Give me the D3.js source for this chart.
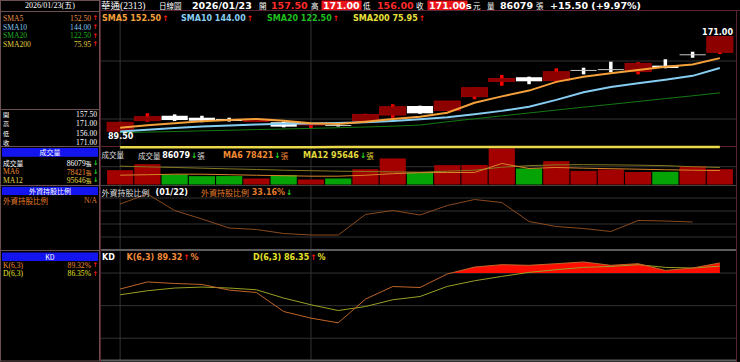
<!DOCTYPE html>
<html>
<head>
<meta charset="utf-8">
<script src="https://cdn.jsdelivr.net/npm/d3@7"></script>
<style>
  body { margin: 0; background: #000; }
  svg { display: block; }
</style>
</head>
<body>
<svg id="chart" width="740" height="362"></svg>
<script>
// ---- data ----
const dates = ['2025/12/23', '2025/12/24', '2025/12/25', '2025/12/26', '2025/12/29', '2025/12/30', '2025/12/31',
  '2026/01/02', '2026/01/05', '2026/01/06', '2026/01/07', '2026/01/08', '2026/01/09', '2026/01/12', '2026/01/13',
  '2026/01/14', '2026/01/15', '2026/01/16', '2026/01/19', '2026/01/20', '2026/01/21', '2026/01/22', '2026/01/23']

const open  = [89.5, 98.5, 102.8, 101.1, 100.0, 97.8, 97.2, 94.8, 94.8, 98.3, 103.4, 111.2, 107.2, 119.2, 132.2, 136.0, 133.0, 142.3, 143.0, 140.8, 146.0, 155.8, 157.5]
const high  = [97.5, 104.9, 104.0, 102.8, 101.1, 100.5, 97.8, 96.3, 95.6, 104.5, 112.7, 111.5, 115.5, 127.0, 138.0, 136.5, 143.7, 144.2, 149.4, 148.9, 151.5, 158.0, 171.0]
const low   = [89.5, 97.7, 98.3, 97.2, 97.8, 97.5, 92.8, 92.0, 93.5, 98.0, 101.1, 104.5, 107.0, 117.0, 128.7, 130.0, 131.5, 138.5, 140.3, 138.5, 143.7, 152.8, 156.0]
const close = [97.2, 102.0, 99.1, 98.5, 98.3, 99.8, 93.4, 96.0, 94.5, 104.0, 110.6, 104.9, 115.5, 127.0, 135.0, 132.5, 140.8, 142.1, 142.6, 148.0, 144.0, 155.5, 171.0]

const sma5   = [92.5, 94.6, 96.3, 98.0, 99.1, 100.0, 98.5, 96.3, 95.7, 97.7, 100.0, 102.0, 105.4, 114.0, 119.5, 124.5, 132.0, 136.5, 139.4, 142.2, 145.1, 147.0, 152.5]
const sma10  = [89.2, 90.8, 92.3, 93.5, 94.5, 95.3, 95.8, 96.2, 96.5, 97.3, 98.3, 99.7, 101.5, 104.0, 107.0, 110.6, 116.5, 123.0, 127.5, 130.8, 133.8, 137.2, 144.0]
const sma20  = [88.2, 88.7, 89.2, 89.8, 90.3, 90.9, 91.4, 91.9, 92.5, 93.1, 93.8, 94.8, 97.6, 100.2, 102.7, 105.2, 107.7, 110.2, 112.6, 115.1, 117.6, 120.0, 122.5]
const sma200 = [75.70, 75.71, 75.72, 75.72, 75.73, 75.74, 75.75, 75.75, 75.76, 75.77, 75.78, 75.78, 75.79, 75.80, 75.81, 75.82, 75.83, 75.84, 75.85, 75.86, 75.87, 75.90, 75.95]

const volume  = [80500, 114200, 56300, 46900, 47500, 33800, 52500, 28100, 33800, 86000, 146300, 67500, 108600, 109800, 202500, 90000, 131100, 76500, 84400, 70200, 71500, 103000, 86079]
const volMa6  = [52300, 55000, 58000, 58000, 55000, 52000, 49500, 46700, 46700, 52000, 60800, 66400, 67500, 67500, 118000, 90000, 95600, 91700, 88900, 86000, 83000, 80400, 78421]
const volMa12 = [103000, 99000, 95600, 91700, 87800, 84400, 80400, 77600, 74800, 73000, 70900, 69200, 74800, 80400, 97300, 105800, 110300, 111400, 110300, 108600, 105800, 100000, 95646]

// foreign holding ratio (%), last value is 01/22
const foreignPct = [33.52, 33.72, 33.39, 33.22, 33.04, 33.01, 32.93, 32.90, 32.90, 33.31, 33.39, 33.30, 33.49, 33.61, 33.55, 33.17, 33.07, 33.03, 32.97, 33.19, 33.18, 33.16]

const kValues = [65.3, 71.8, 70.4, 69.5, 64.3, 62.1, 44.6, 38.5, 34.2, 56.0, 67.6, 66.7, 79.1, 85.5, 87.7, 87.1, 88.6, 90.2, 87.1, 88.6, 82.4, 84.6, 89.32]
const dValues = [60.0, 63.7, 66.2, 67.1, 66.2, 64.6, 57.0, 50.8, 45.5, 49.2, 55.4, 58.4, 67.7, 72.9, 76.9, 80.6, 83.1, 85.2, 86.1, 87.7, 85.2, 84.6, 86.35]

const priceTicks = [100, 150]
const volTicks = [100000]
const foreignTicks = [32.86, 33.12, 33.38, 33.64]
const kdTicks = [20, 50, 80]
const markDates = ['2025/12/23', '2026/01/02']

// ---- setup ----
const sans = "'DejaVu Sans', sans-serif"
const cjk = "'Noto Sans CJK TC', sans-serif"
const serif = "'Liberation Serif', 'Noto Sans CJK TC', serif"
const fmt = d3.format('.2f')
const n = dates.length
const last = n - 1

const svg = d3.select('#chart')
svg.append('rect').attr('width', 740).attr('height', 362).attr('fill', '#000')

const x = d3.scaleBand()
  .domain(dates)
  .range([106.5, 733.5])
  .paddingInner(0.04)
  .paddingOuter(0.02)
const cx = d => x(d) + x.bandwidth() / 2

const y = d3.scaleLinear().domain([100, 150]).range([119, 61])
const yVol = d3.scaleLinear().domain([0, 100000]).range([184.5, 166.7])
const yFor = d3.scaleLinear().domain([32.6, 33.9]).range([250, 185])
const yKD = d3.scaleLinear().domain([0, 100]).range([360, 251.3])

const gridColor = '#333'

function label(g, px, py, s, o = {}) {
  return g.append('text')
    .attr('x', px).attr('y', py)
    .attr('dominant-baseline', 'central')
    .attr('text-anchor', o.anchor || 'start')
    .attr('fill', o.fill || '#fff')
    .attr('font-family', o.family || sans)
    .attr('font-size', o.size || 8)
    .attr('font-weight', o.weight || 'normal')
    .text(s)
}

// a run of coloured pieces that flow one after another
function runs(g, px, py, parts, anchor) {
  const t = g.append('text').attr('x', px).attr('y', py).attr('dominant-baseline', 'central')
    .attr('text-anchor', anchor || 'start')
  parts.forEach(p => {
    t.append('tspan')
      .attr('fill', p.c || '#fff')
      .attr('font-family', p.f || sans)
      .attr('font-size', p.s || 8)
      .attr('font-weight', p.w || 'bold')
      .attr('dx', p.dx || 0)
      .text(p.t)
  })
  return t
}

// ---- grids ----
const grid = svg.append('g')
grid.selectAll('.vg').data(markDates).join('line')
  .attr('x1', d => cx(d)).attr('x2', d => cx(d))
  .attr('y1', 11).attr('y2', 360)
  .attr('stroke', gridColor)
grid.selectAll('.pg').data(priceTicks).join('line')
  .attr('x1', 101).attr('x2', 736).attr('y1', d => y(d)).attr('y2', d => y(d))
  .attr('stroke', gridColor)
grid.selectAll('.volg').data(volTicks).join('line')
  .attr('x1', 101).attr('x2', 736).attr('y1', d => yVol(d)).attr('y2', d => yVol(d))
  .attr('stroke', gridColor)
grid.selectAll('.fg').data(foreignTicks).join('line')
  .attr('x1', 101).attr('x2', 736).attr('y1', d => yFor(d)).attr('y2', d => yFor(d))
  .attr('stroke', gridColor)
grid.selectAll('.kg').data(kdTicks).join('line')
  .attr('x1', 101).attr('x2', 736).attr('y1', d => yKD(d)).attr('y2', d => yKD(d))
  .attr('stroke', gridColor)

// ---- candles ----
const candles = dates.map((d, i) => ({ d, o: open[i], h: high[i], l: low[i], c: close[i] }))
const cs = svg.append('g').selectAll('g').data(candles).join('g')
cs.append('rect')
  .attr('x', d => cx(d.d) - 1.75).attr('width', 3.5)
  .attr('y', d => y(d.h))
  .attr('height', d => Math.max(1, y(d.l) - y(d.h)))
  .attr('fill', d => d.c >= d.o ? '#ff0000' : '#fff')
cs.append('rect')
  .attr('x', d => x(d.d)).attr('width', x.bandwidth())
  .attr('y', d => y(Math.max(d.o, d.c)))
  .attr('height', d => Math.max(1, Math.abs(y(d.o) - y(d.c))))
  .attr('fill', d => d.c >= d.o ? '#8c0000' : (Math.abs(d.o - d.c) < 0.5 ? '#c8c8c8' : '#fff'))
  .attr('stroke', d => d.c >= d.o ? '#a80000' : 'none')
  .attr('stroke-width', 0.8)

// ---- moving averages ----
const maLine = arr => d3.line().x((v, i) => cx(dates[i])).y(v => y(v))(arr)
svg.append('path').attr('d', maLine(sma20)).attr('fill', 'none').attr('stroke', '#127a12').attr('stroke-width', 1)
svg.append('path').attr('d', maLine(sma10)).attr('fill', 'none').attr('stroke', '#86cdf2').attr('stroke-width', 2)
svg.append('path').attr('d', maLine(sma5)).attr('fill', 'none').attr('stroke', '#f5a13a').attr('stroke-width', 2)

// min / max labels
const iMin = d3.minIndex(low), iMax = d3.maxIndex(high)
label(svg, x(dates[iMin]) + 1, y(low[iMin]) + 5, fmt(low[iMin]), { weight: 'bold', size: 8 })
label(svg, x(dates[iMax]) + x.bandwidth(), y(high[iMax]) - 4, fmt(high[iMax]), { weight: 'bold', size: 8, anchor: 'end' })

// ---- volume ----
svg.append('g').selectAll('rect').data(volume).join('rect')
  .attr('x', (v, i) => x(dates[i]))
  .attr('width', x.bandwidth())
  .attr('y', v => yVol(v))
  .attr('height', v => yVol(0) - yVol(v))
  .attr('fill', (v, i) => (i === 0 ? close[0] >= open[0] : close[i] >= close[i - 1]) ? '#a30000' : '#06a306')
const volLine = arr => d3.line().x((v, i) => cx(dates[i])).y(v => yVol(v))(arr)
svg.append('path').attr('d', volLine(volMa12)).attr('fill', 'none').attr('stroke', '#857a22').attr('stroke-width', 1)
svg.append('path').attr('d', volLine(volMa6)).attr('fill', 'none').attr('stroke', '#d8842a').attr('stroke-width', 1)

// ---- foreign ratio ----
svg.append('path')
  .attr('d', d3.line().x((v, i) => cx(dates[i])).y(v => yFor(v))(foreignPct))
  .attr('fill', 'none').attr('stroke', '#8a4a1e').attr('stroke-width', 1)

// ---- KD ----
svg.append('clipPath').attr('id', 'above80')
  .append('rect').attr('x', 100).attr('y', 250).attr('width', 640).attr('height', yKD(80) - 250)
svg.append('path')
  .attr('clip-path', 'url(#above80)')
  .attr('d', d3.area().x((v, i) => cx(dates[i])).y0(yKD(80)).y1(v => yKD(v))(kValues))
  .attr('fill', '#ff0d00')
const kdLine = arr => d3.line().x((v, i) => cx(dates[i])).y(v => yKD(v))(arr)
svg.append('path').attr('d', kdLine(dValues)).attr('fill', 'none').attr('stroke', '#9aa024').attr('stroke-width', 1)
svg.append('path').attr('d', kdLine(kValues)).attr('fill', 'none').attr('stroke', '#c0642a').attr('stroke-width', 1)

// ---- frame lines ----
const frame = svg.append('g')
frame.append('line').attr('x1', 100).attr('x2', 740).attr('y1', 10.5).attr('y2', 10.5).attr('stroke', '#5a2434')
frame.append('line').attr('x1', 100.5).attr('x2', 100.5).attr('y1', 0).attr('y2', 362).attr('stroke', '#5a2434')
frame.append('line').attr('x1', 736.5).attr('x2', 736.5).attr('y1', 10).attr('y2', 362).attr('stroke', '#5a2434')
frame.append('line').attr('x1', 101).attr('x2', 736).attr('y1', 146.5).attr('y2', 146.5).attr('stroke', '#5a2434')
frame.append('line').attr('x1', 101).attr('x2', 736).attr('y1', 185.5).attr('y2', 185.5).attr('stroke', '#444')
frame.append('line').attr('x1', 101).attr('x2', 736).attr('y1', 250).attr('y2', 250).attr('stroke', '#5c5c5c').attr('stroke-width', 2)
frame.append('line').attr('x1', 101).attr('x2', 736).attr('y1', 360.5).attr('y2', 360.5).attr('stroke', '#5c5c5c').attr('stroke-width', 2)
// the 200-day line sits on the panel frame, so it goes on top
svg.append('path').attr('d', maLine(sma200)).attr('fill', 'none').attr('stroke', '#e8d84a').attr('stroke-width', 2.5)

// ---- header ----
const head = svg.append('g')
label(head, 101, 5.5, '華通(2313)', { family: serif, size: 9.5 })
label(head, 159, 5.5, '日線圖', { family: cjk, size: 7.5 })
const chg = close[last] - close[last - 1]
const pct = chg / close[last - 1] * 100
const hx = [
  { t: dates[last], x: 192, c: '#fff' },
  { t: '開', x: 259, c: '#fff', cj: true },
  { t: fmt(open[last]), x: 271, c: '#ff2a2a' },
  { t: '高', x: 311, c: '#fff', cj: true },
  { t: fmt(high[last]), x: 323, c: '#fff', box: true },
  { t: '低', x: 363, c: '#fff', cj: true },
  { t: fmt(low[last]), x: 377, c: '#ff2a2a' },
  { t: '收', x: 416, c: '#fff', cj: true },
  { t: fmt(close[last]), x: 429, c: '#fff', box: true },
  { t: 's', x: 466, c: '#fff' },
  { t: '元', x: 473, c: '#fff', cj: true },
  { t: '量', x: 487, c: '#fff', cj: true },
  { t: String(volume[last]), x: 500, c: '#fff' },
  { t: '張', x: 536, c: '#fff', cj: true },
  { t: `+${fmt(chg)} (+${fmt(pct)}%)`, x: 550, c: '#fff' }
]
hx.forEach(h => {
  const t = label(head, h.x, 5.5, h.t, h.cj ? { family: cjk, size: 7.5, fill: h.c } : { weight: 'bold', size: 9.5, fill: h.c })
  if (h.box) {
    const b = t.node().getBBox()
    head.insert('rect', () => t.node())
      .attr('x', b.x - 1.5).attr('y', 0.5).attr('width', b.width + 3).attr('height', 9.5)
      .attr('fill', '#e8141a')
  }
})

// SMA legend in the price panel
const up = { t: '↑', c: '#ff1a1a', s: 7.5, dx: 1 }
runs(svg, 102, 18.3, [{ t: 'SMA5 ' + fmt(sma5[last]), c: '#f5a13a' }, up])
runs(svg, 181, 18.3, [{ t: 'SMA10 ' + fmt(sma10[last]), c: '#86cdf2' }, up])
runs(svg, 267, 18.3, [{ t: 'SMA20 ' + fmt(sma20[last]), c: '#1fbf1f' }, up])
runs(svg, 353, 18.3, [{ t: 'SMA200 ' + fmt(sma200[last]), c: '#e8e03a' }, up])

// volume legend
const dn = { t: '↓', c: '#22dd22', s: 7.5, dx: 1 }
label(svg, 101.5, 154.5, '成交量', { family: cjk, size: 7.5, fill: '#ddd' })
runs(svg, 138, 154.5, [{ t: '成交量 ', f: cjk, w: 'normal', s: 7.5, c: '#ddd' }, { t: String(volume[last]) }, dn, { t: '張', f: cjk, w: 'normal', s: 7.5, c: '#ddd' }])
runs(svg, 223, 154.5, [{ t: 'MA6 ' + Math.round(volMa6[last]), c: '#f08a30' }, dn, { t: '張', f: cjk, w: 'normal', s: 7.5, c: '#f08a30' }])
runs(svg, 303, 154.5, [{ t: 'MA12 ' + Math.round(volMa12[last]), c: '#e0d83a' }, dn, { t: '張', f: cjk, w: 'normal', s: 7.5, c: '#e0d83a' }])

// foreign legend
runs(svg, 101.5, 191.5, [{ t: '外資持股比例', f: cjk, w: 'normal', s: 8, c: '#ddd' },
  { t: '(01/22)', dx: 6, c: '#fff' },
  { t: '外資持股比例', f: cjk, w: 'normal', s: 8, c: '#e07a2a', dx: 13 },
  { t: ' ' + fmt(foreignPct[foreignPct.length - 1]) + '%', c: '#e07a2a' }, dn])

// KD legend
label(svg, 102, 257.3, 'KD', { weight: 'bold', size: 8 })
runs(svg, 126.5, 257.3, [{ t: 'K(6,3) ' + fmt(kValues[last]), c: '#f08a3a' }, up, { t: '%', c: '#f08a3a', dx: 1 }])
runs(svg, 253, 257.3, [{ t: 'D(6,3) ' + fmt(dValues[last]), c: '#e6e02a' }, up, { t: '%', c: '#e6e02a', dx: 1 }])

// ---- left info panel ----
const side = svg.append('g')
const border = '#6a5050'
side.append('rect').attr('x', 0.5).attr('y', 0.5).attr('width', 99).attr('height', 360.5).attr('fill', 'none').attr('stroke', border)
;[11.5, 109.5, 146.5, 185.5, 250.5].forEach(v => {
  side.append('line').attr('x1', 0).attr('x2', 100).attr('y1', v).attr('y2', v).attr('stroke', border)
})
label(side, 50, 5.5, '2026/01/23(五)', { family: serif, size: 8, anchor: 'middle' })

const sideSize = 7.6
const smaRows = [
  { name: 'SMA5', v: sma5[last], c: '#e89040' },
  { name: 'SMA10', v: sma10[last], c: '#86c8ee' },
  { name: 'SMA20', v: sma20[last], c: '#22b022' },
  { name: 'SMA200', v: sma200[last], c: '#e0d040' }
]
smaRows.forEach((r, i) => {
  const ry = 18.3 + i * 8.7
  label(side, 3, ry, r.name, { family: serif, size: sideSize, fill: r.c })
  label(side, 91, ry, fmt(r.v), { family: serif, size: sideSize, fill: r.c, anchor: 'end' })
  label(side, 92.5, ry, '↑', { weight: 'bold', size: 6.5, fill: '#ff1a1a' })
})

// open / high / low / close rows
const ohlc = [['開', open[last]], ['高', high[last]], ['低', low[last]], ['收', close[last]]]
const ohlcY = 114.8, ohlcStep = 9.1
ohlc.forEach((r, i) => {
  label(side, 3, ohlcY + i * ohlcStep, r[0], { family: cjk, size: 6.2 })
  label(side, 97, ohlcY + i * ohlcStep, fmt(r[1]), { family: serif, size: sideSize, anchor: 'end' })
})

function blueBar(y0, y1, s) {
  side.append('rect').attr('x', 2).attr('y', y0).attr('width', 96).attr('height', y1 - y0).attr('fill', '#1414ee')
  label(side, 50, (y0 + y1) / 2, s, { family: cjk, size: 7, anchor: 'middle' })
}
blueBar(148, 156.8, '成交量')
blueBar(186.8, 195, '外資持股比例')
blueBar(252.5, 261, 'KD')

const volRows = [
  { name: '成交量', v: volume[last], c: '#fff', cj: true },
  { name: 'MA6', v: volMa6[last], c: '#ea8a30' },
  { name: 'MA12', v: volMa12[last], c: '#e0d040' }
]
volRows.forEach((r, i) => {
  const ry = 163 + i * 8.5
  label(side, 3, ry, r.name, r.cj ? { family: cjk, size: 6.8, fill: r.c } : { family: serif, size: sideSize, fill: r.c })
  runs(side, 91.5, ry, [{ t: String(Math.round(r.v)), f: serif, w: 'normal', s: sideSize, c: r.c }, { t: '張', f: cjk, w: 'normal', s: 5.8, c: r.c }], 'end')
  label(side, 93, ry, '↓', { weight: 'bold', size: 6.5, fill: '#22dd22' })
})

label(side, 3, 200, '外資持股比例', { family: cjk, size: 7.5, fill: '#e07a2a' })
label(side, 97, 200, 'N/A', { family: serif, size: sideSize, fill: '#e07a2a', anchor: 'end' })

const kdRows = [
  { name: 'K(6,3)', v: kValues[last], c: '#f08a3a' },
  { name: 'D(6,3)', v: dValues[last], c: '#e6e02a' }
]
kdRows.forEach((r, i) => {
  const ry = 265.3 + i * 8.6
  label(side, 3, ry, r.name, { family: serif, size: sideSize, fill: r.c })
  label(side, 91, ry, fmt(r.v) + '%', { family: serif, size: sideSize, fill: r.c, anchor: 'end' })
  label(side, 92.5, ry, '↑', { weight: 'bold', size: 6.5, fill: '#ff1a1a' })
})
</script>
</body>
</html>
